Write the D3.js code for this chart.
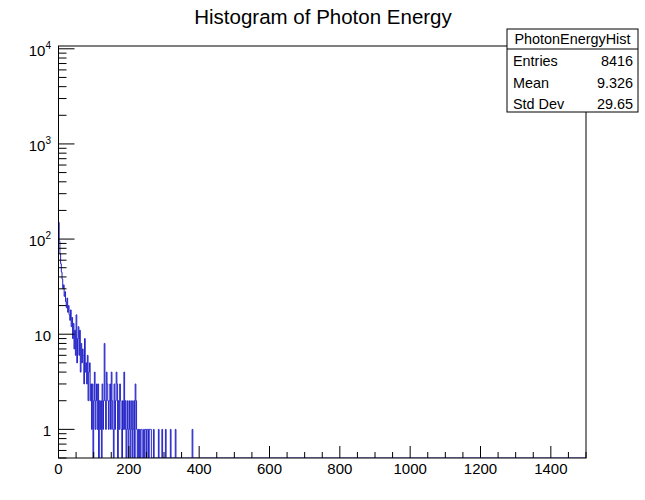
<!DOCTYPE html>
<html>
<head>
<meta charset="utf-8">
<script src="https://d3js.org/d3.v7.min.js"></script>
<style>
  body { margin: 0; background: #fff; }
  svg { display: block; font-family: "Liberation Sans", Arial, Helvetica, sans-serif; }
</style>
</head>
<body>
<svg width="645" height="500"></svg>
<script>
// histogram settings and contents (bin width 2, from 0)
var histName = "PhotonEnergyHist";
var title = "Histogram of Photon Energy";
var binWidth = 2;
var xRange = [0, 1500];
var yRange = [0.5, 1.07e4];
var counts = [
  150, 95, 70, 55, 45,   38, 30, 33, 25, 28,
  22, 19, 24, 17, 20,    16, 14, 18, 12, 15,
  9, 13, 7, 11, 6,       16, 5, 9, 12, 6,
  11, 4, 8, 5, 7,        6, 3, 9, 4, 5,
  3, 6, 2, 4, 5,         2, 3, 1, 3, 0,
  2, 4, 1, 2, 3,         1, 3, 0, 2, 1,
  2, 0, 3, 1, 2,         8, 2, 1, 4, 3,
  2, 1, 2, 3, 1,         4, 2, 1, 0, 3,
  1, 2, 4, 3, 0,         2, 1, 3, 2, 1,
  0, 2, 1, 4, 1,         2, 0, 1, 2, 0,
  1, 2, 0, 1, 2,         0, 1, 2, 0, 3,
  2, 1, 0, 1, 0,         1, 0, 1, 1, 0,
  0, 1, 0, 1, 1,         0, 1, 1, 0, 1,
  1, 1, 0, 0, 0,         1, 0, 0, 0, 0,
  0, 0, 1, 0, 0,         0, 0, 1, 0, 0,
  0, 0, 1, 0, 0,         0, 0, 0, 0, 1,
  0, 0, 0, 0, 0,         0, 1, 0, 0, 0,
  0, 0, 0, 0, 0,         0, 0, 0, 0, 0,
  0, 0, 0, 0, 0,         0, 0, 0, 0, 0,
  1
];
var xTickLabels = [0, 200, 400, 600, 800, 1000, 1200, 1400];
var yDecades = [1, 10, 100, 1000, 10000];
var statNames = ["Entries", "Mean", "Std Dev"];
var statValues = ["8416", "9.326", "29.65"];

var svg = d3.select("svg"),
    frame = {left: 58.5, right: 586, top: 46, bottom: 458};

var x = d3.scaleLinear().domain(xRange).range([frame.left, frame.right]);
var y = d3.scaleLog().domain(yRange).range([frame.bottom, frame.top]);

svg.append("clipPath").attr("id", "clip")
  .append("rect")
    .attr("x", frame.left).attr("y", frame.top)
    .attr("width", frame.right - frame.left).attr("height", frame.bottom - frame.top);

// step outline, zero bins drop to the bottom of the frame
var pts = [[x(0), frame.bottom]];
counts.forEach(function(c, i) {
  var yy = c > 0 ? y(c) : frame.bottom;
  pts.push([x(i * binWidth), yy]);
  pts.push([x((i + 1) * binWidth), yy]);
});
pts.push([x(counts.length * binWidth), frame.bottom]);
pts.push([x(xRange[1]), frame.bottom]);

svg.append("path")
    .attr("clip-path", "url(#clip)")
    .attr("d", d3.line()(pts))
    .attr("fill", "none")
    .attr("stroke", "#2424c8")
    .attr("stroke-width", 1);

// frame
svg.append("rect")
    .attr("x", frame.left).attr("y", frame.top)
    .attr("width", frame.right - frame.left).attr("height", frame.bottom - frame.top)
    .attr("fill", "none").attr("stroke", "#000").attr("stroke-width", 1);

// x axis ticks
var xt = svg.append("g").attr("stroke", "#000").attr("stroke-width", 1);
d3.range(0, 1501, 50).forEach(function(v) {
  var len = v % 200 === 0 ? 12 : 6;
  xt.append("line")
    .attr("x1", x(v)).attr("x2", x(v))
    .attr("y1", frame.bottom).attr("y2", frame.bottom - len);
});
svg.append("g").selectAll("text")
  .data(xTickLabels).enter().append("text")
    .attr("x", function(d) { return x(d); })
    .attr("y", 474)
    .attr("text-anchor", "middle")
    .attr("font-size", 15)
    .text(function(d) { return d; });

// y axis ticks (log)
var yt = svg.append("g").attr("stroke", "#000").attr("stroke-width", 1);
var yMinor = [];
[0.1, 1, 10, 100, 1000].forEach(function(d) {
  for (var k = 2; k <= 9; k++) yMinor.push(d * k);
});
yMinor.filter(function(v) { return v >= yRange[0] && v <= yRange[1]; }).forEach(function(v) {
  yt.append("line")
    .attr("x1", frame.left).attr("x2", frame.left + 8)
    .attr("y1", y(v)).attr("y2", y(v));
});
yDecades.forEach(function(v) {
  yt.append("line")
    .attr("x1", frame.left).attr("x2", frame.left + 16)
    .attr("y1", y(v)).attr("y2", y(v));
});
var yl = svg.append("g").selectAll("text")
  .data(yDecades).enter().append("text")
    .attr("x", 51)
    .attr("y", function(d) { return y(d) + 7; })
    .attr("text-anchor", "end")
    .attr("font-size", 15);
yl.each(function(d) {
  var t = d3.select(this), p = Math.round(Math.log10(d));
  if (p < 2) { t.text(d); return; }
  t.append("tspan").text("10");
  t.append("tspan").attr("font-size", 10).attr("dy", -7).text(p);
});

// title
svg.append("text")
    .attr("x", 323).attr("y", 24)
    .attr("text-anchor", "middle")
    .attr("font-size", 20.5)
    .text(title);

// stats box
var box = {x: 507, y: 29, w: 131, h: 83, head: 20};
svg.append("rect")
    .attr("x", box.x).attr("y", box.y).attr("width", box.w).attr("height", box.h)
    .attr("fill", "#fff").attr("stroke", "#000").attr("stroke-width", 1);
svg.append("line")
    .attr("x1", box.x).attr("x2", box.x + box.w)
    .attr("y1", box.y + box.head).attr("y2", box.y + box.head)
    .attr("stroke", "#000");
svg.append("text")
    .attr("x", box.x + box.w / 2).attr("y", box.y + 15)
    .attr("text-anchor", "middle").attr("font-size", 14.4)
    .text(histName);
statNames.forEach(function(n, i) {
  var yy = box.y + 37 + i * 21.5;
  svg.append("text").attr("x", box.x + 6).attr("y", yy)
    .attr("font-size", 14.4).text(n);
  svg.append("text").attr("x", box.x + box.w - 5).attr("y", yy)
    .attr("text-anchor", "end").attr("font-size", 14.4).text(statValues[i]);
});
</script>
</body>
</html>
